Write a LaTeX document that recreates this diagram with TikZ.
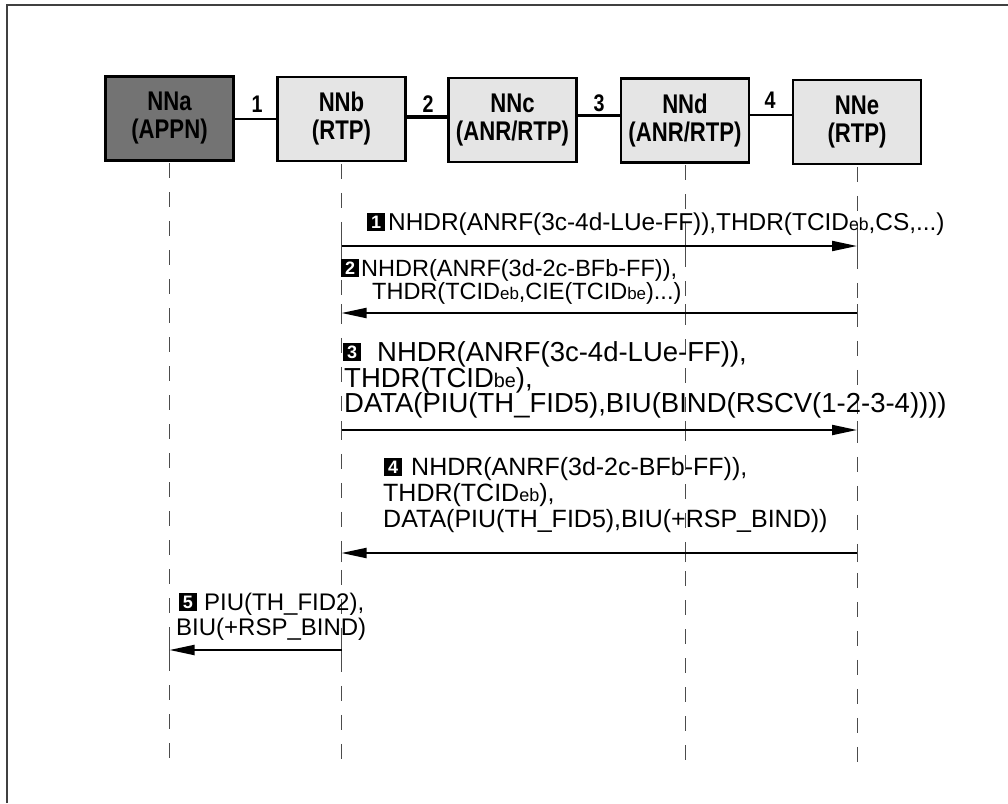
\documentclass[tikz,border=0pt]{standalone}
\usepackage{fontspec}
\usepackage{graphicx}
\setmainfont{Liberation Sans}
\newfontfamily\boxfont[FakeStretch=0.82]{Liberation Sans}
\usetikzlibrary{arrows.meta}
\newcommand\lowsub[1]{\scalebox{0.72}{#1}}
\begin{document}
\begin{tikzpicture}[x=1pt,y=-1pt,
  nn/.style={draw, line width=2.5pt, minimum width=128pt, minimum height=84pt,
    fill=black!10, align=center, inner sep=0pt,
    font=\boxfont\bfseries\fontsize{27}{28}\selectfont},
  nndark/.style={nn, fill=black!55},
  linklbl/.style={font=\boxfont\bfseries\fontsize{24}{24}\selectfont, inner sep=0pt},
  lifeline/.style={line width=0.9pt, black!70, dash pattern=on 15pt off 14pt},
  tick/.style={line width=0.9pt, black!70},
  msg/.style={line width=2pt, -{Triangle[length=25pt,width=10pt]}},
  numbox/.style={fill=black, text=white, font=\bfseries\fontsize{18}{18}\selectfont,
    minimum width=18pt, minimum height=18pt, inner sep=0pt},
  mtext/.style={inner sep=0pt, anchor=base west}
]
\useasboundingbox (0,0) rectangle (1008,803);
\draw[line width=1.5pt, black!75] (7,803) -- (7,5) -- (1008,5);

% nodes
\node[nndark] (a) at (169.5,118.5) {NNa\\(APPN)};
\node[nn] (b) at (341.5,119) {NNb\\(RTP)};
\node[nn] (c) at (512.5,120) {NNc\\(ANR/RTP)};
\node[nn] (d) at (685,120.5) {NNd\\(ANR/RTP)};
\node[nn] (e) at (857,122) {NNe\\(RTP)};

% links
\draw[line width=2pt] (a.east |- 0,119) -- (b.west |- 0,119);
\draw[line width=3.5pt] (b.east |- 0,117) -- (c.west |- 0,117);
\draw[line width=3pt] (c.east |- 0,115) -- (d.west |- 0,115);
\draw[line width=2pt] (d.east |- 0,115) -- (e.west |- 0,115);
\node[linklbl] (l1) at (257,104) {1};
\node[linklbl] (l2) at (428,104) {2};
\node[linklbl] (l3) at (599,103) {3};
\node[linklbl] (l4) at (770,100) {4};

% lifelines
\foreach \n in {a,b,d,e} {
  \coordinate (\n end) at (\n.south |- 0,765);
  \draw[lifeline] ([yshift=-1.5pt]\n.south) -- (\n end);
}

% message anchor points on lifelines
\foreach \y/\k in {246/1,313/2,430/3,553/4,650/5} {
  \coordinate (a\k) at (a.south |- 0,\y);
  \coordinate (b\k) at (b.south |- 0,\y);
  \coordinate (d\k) at (d.south |- 0,\y);
  \coordinate (e\k) at (e.south |- 0,\y);
}
% ticks where arrows meet lifelines
\foreach \p in {b1,d1,e1,b2,d2,e2,b3,d3,e3,b4,d4,e4,a5,b5} {
  \draw[tick] ([yshift=-9pt]\p) -- ([yshift=9pt]\p);
}

% message 1
\node[numbox] (n1) at (376,222) {1};
\node[mtext, font=\fontsize{24.4}{28}\selectfont] (t1) at (388,230)
  {NHDR(ANRF(3c-4d-LUe-FF)),THDR(TCID\lowsub{eb},CS,...)};
\draw[msg] (b1) -- (e1);

% message 2
\node[numbox] (n2) at (350,268) {2};
\node[mtext, font=\fontsize{23.5}{28}\selectfont] (t2a) at (361,276)
  {NHDR(ANRF(3d-2c-BFb-FF)),};
\node[mtext, font=\fontsize{23.5}{28}\selectfont] (t2b) at (372,299)
  {THDR(TCID\lowsub{eb},CIE(TCID\lowsub{be})...)};
\draw[msg] (e2) -- (b2);

% message 3
\node[numbox] (n3) at (352,352) {3};
\node[mtext, font=\fontsize{27.5}{30}\selectfont] (t3a) at (377,361)
  {NHDR(ANRF(3c-4d-LUe-FF)),};
\node[mtext, font=\fontsize{27.5}{30}\selectfont] (t3b) at (344,387)
  {THDR(TCID\lowsub{be}),};
\node[mtext, font=\fontsize{27.5}{30}\selectfont] (t3c) at (344,412)
  {DATA(PIU(TH\_FID5),BIU(BIND(RSCV(1-2-3-4))))};
\draw[msg] (b3) -- (e3);

% message 4
\node[numbox] (n4) at (393,467) {4};
\node[mtext, font=\fontsize{25}{29}\selectfont] (t4a) at (411,475)
  {NHDR(ANRF(3d-2c-BFb-FF)),};
\node[mtext, font=\fontsize{25}{29}\selectfont] (t4b) at (383,501)
  {THDR(TCID\lowsub{eb}),};
\node[mtext, font=\fontsize{25}{29}\selectfont] (t4c) at (383,527)
  {DATA(PIU(TH\_FID5),BIU(+RSP\_BIND))};
\draw[msg] (e4) -- (b4);

% message 5
\node[numbox] (n5) at (188,602) {5};
\node[mtext, font=\fontsize{24}{29}\selectfont] (t5a) at (204,610)
  {PIU(TH\_FID2),};
\node[mtext, font=\fontsize{24}{29}\selectfont] (t5b) at (176,635)
  {BIU(+RSP\_BIND)};
\draw[msg] (b5) -- (a5);
\end{tikzpicture}
\end{document}
